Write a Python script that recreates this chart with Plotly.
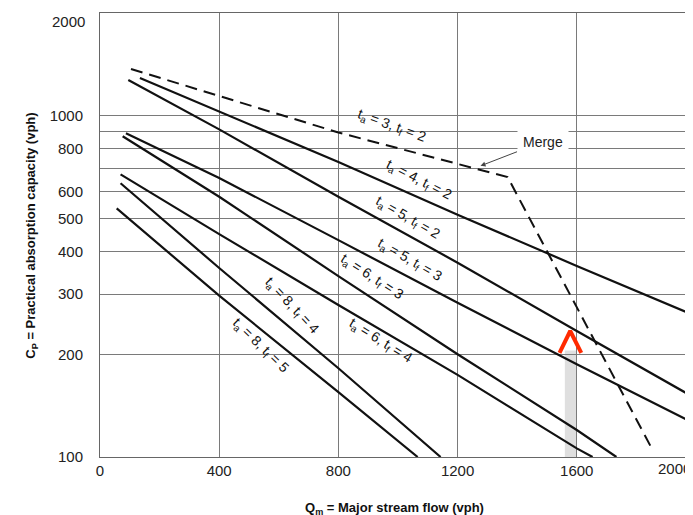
import numpy as np
import plotly.graph_objects as go

# ---- data (x = major stream flow, vph ; y = practical absorption capacity, vph)
merge_x = [104, 800, 1368, 1849]
merge_y = [1371, 893, 661, 107]

ta4_tf2_x = [134, 400, 800, 1200, 1600, 1990]
ta4_tf2_y = [1289, 1026, 732, 513, 363, 261]
ta5_tf2_x = [95, 400, 800, 1200, 1600, 1990]
ta5_tf2_y = [1273, 912, 579, 371, 234, 150]
ta5_tf3_x = [87, 400, 800, 1200, 1600, 1990]
ta5_tf3_y = [888, 657, 432, 283, 187, 126]
ta6_tf3_x = [76, 400, 800, 1200, 1600, 1733]
ta6_tf3_y = [871, 579, 339, 200, 120, 100]
ta6_tf4_x = [69, 400, 800, 1200, 1600, 1653]
ta6_tf4_y = [673, 450, 279, 174, 106, 100]
ta8_tf4_x = [69, 400, 800, 1143]
ta8_tf4_y = [634, 358, 182, 100]
ta8_tf5_x = [56, 400, 800, 1066]
ta8_tf5_y = [535, 297, 155, 100]

# curve labels: text, x, y, angle
label_text = ["t<sub>a</sub> = 3, t<sub>f</sub> = 2", "t<sub>a</sub> = 4, t<sub>f</sub> = 2",
              "t<sub>a</sub> = 5, t<sub>f</sub> = 2", "t<sub>a</sub> = 5, t<sub>f</sub> = 3",
              "t<sub>a</sub> = 6, t<sub>f</sub> = 3", "t<sub>a</sub> = 6, t<sub>f</sub> = 4",
              "t<sub>a</sub> = 8, t<sub>f</sub> = 4", "t<sub>a</sub> = 8, t<sub>f</sub> = 5"]
label_x = [979, 1069, 1033, 1039, 912, 942, 644, 540]
label_y = [933, 647, 502, 378, 336, 219, 277, 212]
label_angle = [20, 27, 30, 30, 33, 32, 47, 44]

# Merge callout
merge_pt_x, merge_pt_y = 1277, 713

# highlight marker (red chevron) and grey bar
chevron_x = [1542, 1578, 1615]
chevron_y = [202, 234, 202]
bar_x = [1560, 1598]
bar_y = [100, 205]

x_ticks = [0, 400, 800, 1200, 1600]
y_ticks = [100, 200, 300, 400, 500, 600, 700, 800, 900, 1000]
y_ticktext = ["100", "200", "300", "400", "500", "600", "", "800", "", "1000"]

FONT = "Liberation Sans, Arial, sans-serif"

fig = go.Figure()

fig.add_shape(type="rect", x0=bar_x[0], x1=bar_x[1], y0=bar_y[0], y1=bar_y[1],
              xref="x", yref="y", line=dict(width=0),
              fillcolor="rgba(150,150,150,0.30)", layer="below")

solid = [(ta4_tf2_x, ta4_tf2_y), (ta5_tf2_x, ta5_tf2_y), (ta5_tf3_x, ta5_tf3_y),
         (ta6_tf3_x, ta6_tf3_y), (ta6_tf4_x, ta6_tf4_y), (ta8_tf4_x, ta8_tf4_y),
         (ta8_tf5_x, ta8_tf5_y)]
for xs, ys in solid:
    fig.add_trace(go.Scatter(x=xs, y=ys, mode="lines",
                             line=dict(color="#111111", width=2.2), showlegend=False))

fig.add_trace(go.Scatter(x=merge_x, y=merge_y, mode="lines",
                         line=dict(color="#111111", width=2, dash="12px,7px"),
                         showlegend=False))

fig.add_trace(go.Scatter(x=chevron_x, y=chevron_y, mode="lines",
                         line=dict(color="#ff2a00", width=4), showlegend=False))

annotations = []
for t, x, y, a in zip(label_text, label_x, label_y, label_angle):
    annotations.append(dict(x=x, y=np.log10(y), xref="x", yref="y", text=t,
                            showarrow=False, textangle=a,
                            font=dict(family=FONT, size=14, color="#111")))

annotations.append(dict(x=merge_pt_x, y=np.log10(merge_pt_y), xref="x", yref="y",
                        text="Merge", showarrow=True, ax=62, ay=-24,
                        arrowhead=2, arrowsize=1, arrowwidth=1, arrowcolor="#444",
                        bgcolor="white", borderpad=5,
                        font=dict(family=FONT, size=14, color="#222")))

# "2000" labels at the clipped right edge and at the top of the y axis
annotations.append(dict(x=1, y=0, xref="paper", yref="paper", text="2000",
                        xanchor="right", yanchor="top", yshift=-1, showarrow=False,
                        font=dict(family=FONT, size=15, color="#222")))
annotations.append(dict(x=0, y=1, xref="paper", yref="paper", text="2000",
                        xanchor="right", yanchor="top", xshift=-13, yshift=2,
                        showarrow=False, font=dict(family=FONT, size=15, color="#222")))

annotations.append(dict(x=0.497, y=-0.117, xref="paper", yref="paper",
                        xanchor="center", yanchor="middle",
                        text="<b>Q<sub>m</sub> = Major stream flow (vph)</b>",
                        showarrow=False, font=dict(family=FONT, size=13, color="#111")))
annotations.append(dict(x=-0.115, y=0.498, xref="paper", yref="paper", textangle=-90,
                        xanchor="center", yanchor="middle",
                        text="<b>C<sub>P</sub> = Practical absorption capacity (vph)</b>",
                        showarrow=False, font=dict(family=FONT, size=13, color="#111")))

# page body has an 8px default margin, so the figure is shifted by 8px
fig.update_layout(
    width=685, height=507,
    margin=dict(l=92, r=0, t=5, b=58),
    paper_bgcolor="white", plot_bgcolor="white",
    showlegend=False,
    annotations=annotations,
    xaxis=dict(range=[0, 1990], tickvals=x_ticks, showgrid=True, gridcolor="#7a7a7a",
               gridwidth=1, showline=True, linecolor="#666", linewidth=1, mirror=True,
               zeroline=False, ticks="", ticklen=0, ticklabelstandoff=0,
               tickfont=dict(family=FONT, size=15, color="#222")),
    yaxis=dict(type="log", range=[2 - 1e-5, np.log10(2000)], tickvals=y_ticks,
               ticktext=y_ticktext,
               showgrid=True, gridcolor="#7a7a7a", gridwidth=1, showline=True,
               linecolor="#666", linewidth=1, zeroline=False, ticks="", ticklabelstandoff=13,
               tickfont=dict(family=FONT, size=15, color="#222")),
)

fig.write_html("out.html")
